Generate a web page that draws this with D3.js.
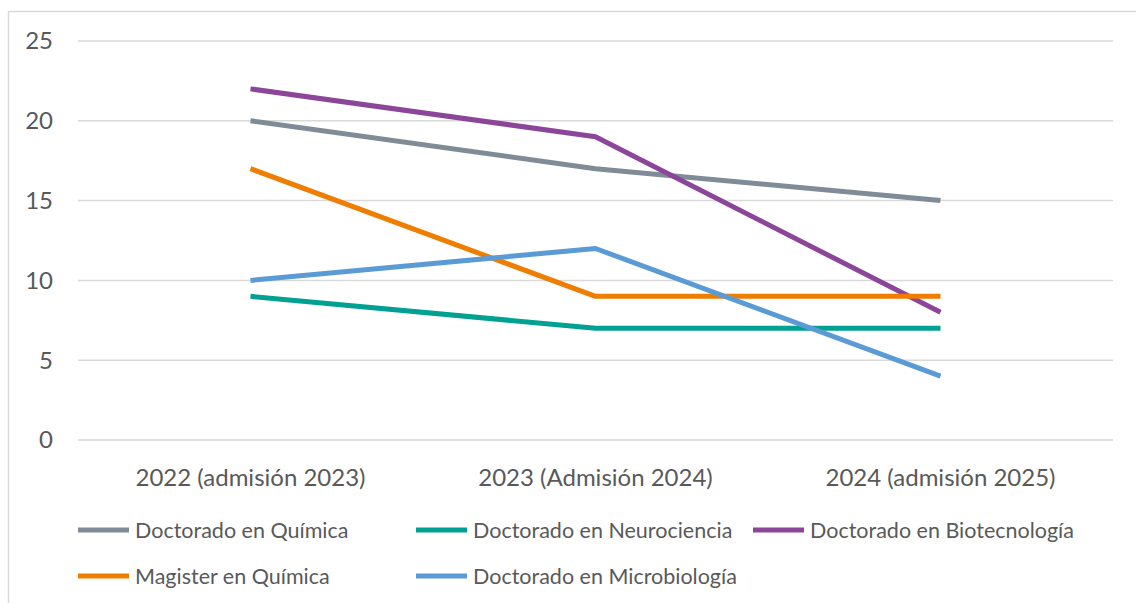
<!DOCTYPE html>
<meta charset="utf-8">
<script src="https://d3js.org/d3.v7.min.js"></script>
<style>
  body { margin: 0; background: #fff; }
  text { font-family: Lato, "Open Sans", sans-serif; fill: #595959; }
</style>
<div id="chart"></div>
<script>
// categories on the x axis
var categories = ["2022 (admisión 2023)", "2023 (Admisión 2024)", "2024 (admisión 2025)"];

// series
var seriesNames = ["Doctorado en Química", "Doctorado en Neurociencia", "Doctorado en Biotecnología",
                   "Magister en Química", "Doctorado en Microbiología"];
var quimica = [20, 17, 15];
var neuro = [9, 7, 7];
var biotec = [22, 19, 8];
var magister = [17, 9, 9];
var micro = [10, 12, 4];
var colors = ["#808b98", "#00a193", "#8b4599", "#ee7d00", "#5b9bd5"];

var yTicks = [0, 5, 10, 15, 20, 25];

var series = [quimica, neuro, biotec, magister, micro].map(function(v, i) {
  return { name: seriesNames[i], values: v, color: colors[i] };
});

var W = 1136, H = 603;
var plotLeft = 78, plotRight = 1113, plotTop = 41, plotBottom = 440;

var svg = d3.select("#chart").append("svg")
  .attr("width", W).attr("height", H);

// outer border
svg.append("rect")
  .attr("x", 8.5).attr("y", 11.5)
  .attr("width", W + 20).attr("height", H + 20)
  .attr("fill", "none").attr("stroke", "#d9d9d9").attr("stroke-width", 1.5);

var x = d3.scaleBand().domain(categories).range([plotLeft, plotRight]);
var y = d3.scaleLinear().domain([0, 25]).range([plotBottom, plotTop]);

// gridlines
svg.append("g").selectAll("line")
  .data(yTicks)
  .join("line")
    .attr("x1", plotLeft).attr("x2", plotRight)
    .attr("y1", function(d) { return y(d); })
    .attr("y2", function(d) { return y(d); })
    .attr("stroke", "#d9d9d9").attr("stroke-width", 1.5);

// y labels
svg.append("g").selectAll("text")
  .data(yTicks)
  .join("text")
    .attr("x", 53)
    .attr("y", function(d) { return y(d); })
    .attr("dy", "0.35em")
    .attr("text-anchor", "end")
    .style("font-size", "24px")
    .text(function(d) { return d; });

// x labels
svg.append("g").selectAll("text")
  .data(categories)
  .join("text")
    .attr("x", function(d) { return x(d) + x.bandwidth() / 2; })
    .attr("y", 478)
    .attr("dy", "0.35em")
    .attr("text-anchor", "middle")
    .style("font-size", "24px")
    .text(function(d) { return d; });

var line = d3.line()
  .x(function(d, i) { return x(categories[i]) + x.bandwidth() / 2; })
  .y(function(d) { return y(d); });

svg.append("g").selectAll("path")
  .data(series)
  .join("path")
    .attr("d", function(d) { return line(d.values); })
    .attr("fill", "none")
    .attr("stroke", function(d) { return d.color; })
    .attr("stroke-width", 5)
    .attr("stroke-linejoin", "round");

// legend
var legendPos = [[78, 530], [416, 530], [753, 530], [78, 576], [416, 576]];
var lg = svg.append("g").selectAll("g")
  .data(series)
  .join("g")
    .attr("transform", function(d, i) { return "translate(" + legendPos[i][0] + "," + legendPos[i][1] + ")"; });
lg.append("line")
  .attr("x1", 0).attr("x2", 51)
  .attr("stroke", function(d) { return d.color; })
  .attr("stroke-width", 5);
lg.append("text")
  .attr("x", 57)
  .attr("dy", "0.35em")
  .style("font-size", "21.5px")
  .text(function(d) { return d.name; });
</script>
